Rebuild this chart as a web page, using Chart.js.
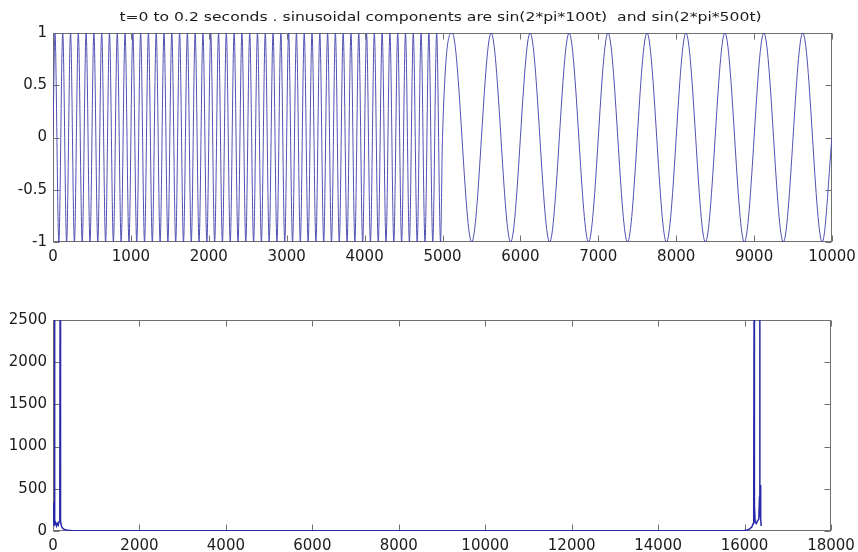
<!DOCTYPE html>
<html>
<head>
<meta charset="utf-8">
<title>sinusoid and spectrum</title>
<script src="https://cdn.jsdelivr.net/npm/chart.js@4.4.1/dist/chart.umd.min.js"></script>
<style>
  html, body { margin: 0; padding: 0; background: #fff; }
  #wrap { position: relative; width: 858px; height: 552px; }
  canvas { position: absolute; left: 0; }
  #signalChart { top: 0; }
  #spectrumChart { top: 285px; }
</style>
</head>
<body>
<div id="wrap">
  <canvas id="signalChart" width="858" height="270"></canvas>
  <canvas id="spectrumChart" width="858" height="267"></canvas>
</div>
<script>
// first half: 500 Hz part, peaks and troughs (sample index)
const fastX = [0,
  25, 75, 125, 175, 225, 275, 325, 375, 425, 475,
  525, 575, 625, 675, 725, 775, 825, 875, 925, 975,
  1025, 1075, 1125, 1175, 1225, 1275, 1325, 1375, 1425, 1475,
  1525, 1575, 1625, 1675, 1725, 1775, 1825, 1875, 1925, 1975,
  2025, 2075, 2125, 2175, 2225, 2275, 2325, 2375, 2425, 2475,
  2525, 2575, 2625, 2675, 2725, 2775, 2825, 2875, 2925, 2975,
  3025, 3075, 3125, 3175, 3225, 3275, 3325, 3375, 3425, 3475,
  3525, 3575, 3625, 3675, 3725, 3775, 3825, 3875, 3925, 3975,
  4025, 4075, 4125, 4175, 4225, 4275, 4325, 4375, 4425, 4475,
  4525, 4575, 4625, 4675, 4725, 4775, 4825, 4875, 4925, 4975,
  5000];
const fastY = [0,
  1, -1, 1, -1, 1, -1, 1, -1, 1, -1,
  1, -1, 1, -1, 1, -1, 1, -1, 1, -1,
  1, -1, 1, -1, 1, -1, 1, -1, 1, -1,
  1, -1, 1, -1, 1, -1, 1, -1, 1, -1,
  1, -1, 1, -1, 1, -1, 1, -1, 1, -1,
  1, -1, 1, -1, 1, -1, 1, -1, 1, -1,
  1, -1, 1, -1, 1, -1, 1, -1, 1, -1,
  1, -1, 1, -1, 1, -1, 1, -1, 1, -1,
  1, -1, 1, -1, 1, -1, 1, -1, 1, -1,
  1, -1, 1, -1, 1, -1, 1, -1, 1, -1,
  0];
// second half: 100 Hz part
const slowX = [5125, 5375, 5625, 5875, 6125, 6375, 6625, 6875, 7125, 7375,
  7625, 7875, 8125, 8375, 8625, 8875, 9125, 9375, 9625, 9875, 10000];
const slowY = [1, -1, 1, -1, 1, -1, 1, -1, 1, -1,
  1, -1, 1, -1, 1, -1, 1, -1, 1, -1, 0];

// magnitude spectrum (bin, |X|)
const specX = [0, 3, 8, 15, 22, 28, 33, 38, 45, 60, 80, 100, 120, 140, 155, 160, 164, 168, 175, 180,
  190, 210, 240, 280, 340, 420, 600, 1500, 4000, 8000, 12000, 15000, 16000, 16060, 16120, 16170,
  16200, 16212, 16220, 16228, 16245, 16270, 16300, 16330, 16345, 16351, 16357, 16364, 16370, 16376, 16384];
const specY = [120, 344, 110, 70, 90, 180, 2500, 160, 80, 100, 60, 90, 70, 110, 180, 400, 2500, 400, 229, 120,
  70, 40, 25, 15, 10, 6, 4, 3, 3, 2, 2, 3, 5, 12, 25, 50,
  90, 300, 2500, 300, 110, 90, 120, 140, 400, 2500, 400, 200, 545, 150, 60];

const signalXTicks = [0, 1000, 2000, 3000, 4000, 5000, 6000, 7000, 8000, 9000, 10000];
const signalYTicks = [-1, -0.5, 0, 0.5, 1];
const spectrumXTicks = [0, 2000, 4000, 6000, 8000, 10000, 12000, 14000, 16000, 18000];
const spectrumYTicks = [0, 500, 1000, 1500, 2000, 2500];

const titleText = 't=0 to 0.2 seconds . sinusoidal components are sin(2*pi*100t)  and sin(2*pi*500t)';

const tickFont = { family: '"DejaVu Sans", sans-serif', size: 15 };
const textColor = '#1c1c1c';

// box + inward tick marks, like matlab axes
const matlabAxes = {
  id: 'matlabAxes',
  beforeDatasetsDraw(chart) {
    const { ctx, chartArea: a, scales } = chart;
    ctx.save();
    ctx.strokeStyle = '#707070';
    ctx.lineWidth = 1;
    const l = Math.round(a.left) + 0.5, r = Math.round(a.right) - 0.5;
    const t = Math.round(a.top) + 0.5, b = Math.round(a.bottom) - 0.5;
    ctx.strokeRect(l, t, r - l, b - t);
    ctx.beginPath();
    scales.x.ticks.forEach(tk => {
      const px = Math.round(scales.x.getPixelForValue(tk.value)) + 0.5;
      ctx.moveTo(px, b); ctx.lineTo(px, b - 6);
      ctx.moveTo(px, t); ctx.lineTo(px, t + 6);
    });
    scales.y.ticks.forEach(tk => {
      const py = Math.round(scales.y.getPixelForValue(tk.value)) + 0.5;
      ctx.moveTo(l, py); ctx.lineTo(l + 6, py);
      ctx.moveTo(r, py); ctx.lineTo(r - 6, py);
    });
    ctx.stroke();
    ctx.restore();
  }
};

// the title in the picture is a bit wide, so stretch it sideways
const stretchedTitle = {
  id: 'stretchedTitle',
  afterDraw(chart, args, opts) {
    if (!opts.text) return;
    const { ctx, chartArea: a } = chart;
    ctx.save();
    ctx.font = '12px "DejaVu Sans", sans-serif';
    ctx.fillStyle = textColor;
    ctx.textAlign = 'center';
    ctx.textBaseline = 'middle';
    ctx.translate((a.left + a.right) / 2 - 2, a.top - 15);
    ctx.scale(1.3, 1);
    ctx.fillText(opts.text, 0, 0);
    ctx.restore();
  }
};

function axis(min, max, tickList, fitFn) {
  return {
    type: 'linear',
    min: min,
    max: max,
    afterBuildTicks: s => { s.ticks = tickList.map(v => ({ value: v })); },
    afterFit: s => {
      fitFn(s);
      // no extra room for overhanging end labels
      s.paddingLeft = 0; s.paddingRight = 0;
      s.paddingTop = 0; s.paddingBottom = 0;
    },
    grid: { display: false, drawTicks: false },
    border: { display: false },
    ticks: {
      padding: 6,
      maxRotation: 0,
      autoSkip: false,
      font: tickFont,
      color: textColor,
      callback: v => String(v)
    }
  };
}

function toPoints(xs, ys) {
  return xs.map((x, i) => ({ x: x, y: ys[i] }));
}

new Chart(document.getElementById('signalChart'), {
  type: 'line',
  data: {
    datasets: [{
      data: toPoints(fastX.concat(slowX), fastY.concat(slowY)),
      borderColor: 'rgb(80, 80, 180)',
      borderWidth: 1,
      pointRadius: 0,
      cubicInterpolationMode: 'monotone',
      fill: false
    }]
  },
  options: {
    responsive: false,
    animation: false,
    layout: { padding: { left: 0, right: 26, top: 33, bottom: 0 } },
    plugins: {
      legend: { display: false },
      tooltip: { enabled: false },
      stretchedTitle: { text: titleText }
    },
    scales: {
      x: axis(0, 10000, signalXTicks, s => { s.height = 28; }),
      y: axis(-1, 1, signalYTicks, s => { s.width = 53; s.paddingLeft = 0; })
    }
  },
  plugins: [matlabAxes, stretchedTitle]
});

new Chart(document.getElementById('spectrumChart'), {
  type: 'line',
  data: {
    datasets: [{
      data: toPoints(specX, specY),
      borderColor: 'rgb(40, 40, 170)',
      borderWidth: 1.5,
      pointRadius: 0,
      tension: 0,
      fill: false
    }]
  },
  options: {
    responsive: false,
    animation: false,
    layout: { padding: { left: 0, right: 27, top: 35, bottom: 0 } },
    plugins: {
      legend: { display: false },
      tooltip: { enabled: false }
    },
    scales: {
      x: axis(0, 18000, spectrumXTicks, s => { s.height = 21; }),
      y: axis(0, 2500, spectrumYTicks, s => { s.width = 53; })
    }
  },
  plugins: [matlabAxes]
});
</script>
</body>
</html>
